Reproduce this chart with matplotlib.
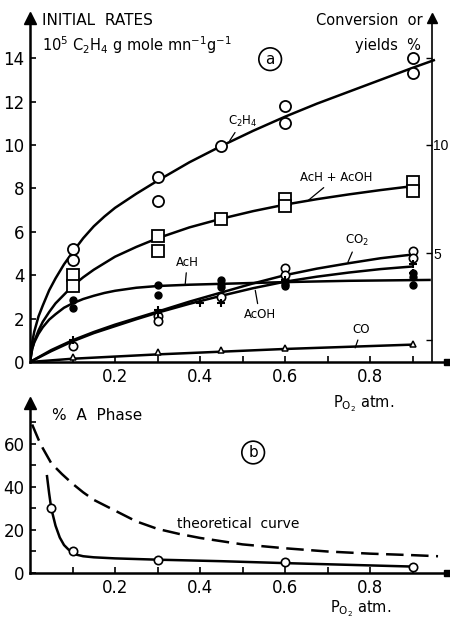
import numpy as np
import matplotlib
matplotlib.use('Agg')
import matplotlib.pyplot as plt

plt.rcParams['font.family'] = ['DejaVu Sans']

# ---- panel (a): initial rates vs P_O2 ----
c2h4_x = [0.1, 0.1, 0.3, 0.3, 0.45, 0.6, 0.6, 0.9, 0.9]
c2h4_y = [5.2, 4.7, 8.5, 7.4, 9.95, 11.8, 11.0, 14.0, 13.3]
sum_x = [0.1, 0.1, 0.3, 0.3, 0.45, 0.6, 0.6, 0.9, 0.9]
sum_y = [4.0, 3.5, 5.8, 5.1, 6.6, 7.5, 7.2, 8.3, 7.9]
ach_x = [0.1, 0.1, 0.3, 0.3, 0.45, 0.45, 0.45, 0.6, 0.6, 0.6, 0.9, 0.9, 0.9]
ach_y = [2.85, 2.5, 3.55, 3.1, 3.8, 3.6, 3.45, 3.8, 3.6, 3.5, 4.1, 3.9, 3.55]
co2_x = [0.1, 0.3, 0.3, 0.45, 0.6, 0.6, 0.9, 0.9]
co2_y = [0.75, 2.1, 1.9, 3.0, 4.35, 4.0, 5.1, 4.8]
acoh_x = [0.1, 0.3, 0.3, 0.4, 0.45, 0.6, 0.9, 0.9]
acoh_y = [1.0, 2.25, 2.4, 2.7, 2.7, 3.8, 4.5, 4.1]
co_x = [0.1, 0.3, 0.45, 0.6, 0.9]
co_y = [0.25, 0.45, 0.55, 0.65, 0.85]

# fitted curves
c2h4_cx = [0, 0.005, 0.01, 0.02, 0.03, 0.045, 0.06, 0.08, 0.1, 0.125, 0.15, 0.175, 0.2,
           0.25, 0.3, 0.375, 0.45, 0.525, 0.6, 0.675, 0.75, 0.825, 0.9, 0.95]
c2h4_cy = [0, 0.9, 1.4, 2.1, 2.6, 3.3, 3.85, 4.5, 5.05, 5.7, 6.25, 6.7, 7.1,
           7.75, 8.35, 9.2, 9.95, 10.65, 11.3, 11.9, 12.45, 13.0, 13.55, 13.9]
sum_cx = [0, 0.005, 0.01, 0.02, 0.03, 0.045, 0.06, 0.08, 0.1, 0.125, 0.15, 0.175, 0.2,
          0.25, 0.3, 0.375, 0.45, 0.525, 0.6, 0.675, 0.75, 0.825, 0.9]
sum_cy = [0, 0.6, 0.95, 1.45, 1.85, 2.3, 2.7, 3.1, 3.5, 3.9, 4.25, 4.55, 4.85,
          5.3, 5.7, 6.2, 6.6, 6.95, 7.25, 7.5, 7.72, 7.92, 8.1]
ach_cx = [0, 0.005, 0.01, 0.02, 0.03, 0.045, 0.06, 0.08, 0.1, 0.125, 0.15, 0.175, 0.2,
          0.25, 0.3, 0.375, 0.45, 0.6, 0.75, 0.94]
ach_cy = [0, 0.6, 0.9, 1.3, 1.6, 1.95, 2.2, 2.5, 2.7, 2.9, 3.05, 3.18, 3.28,
          3.42, 3.5, 3.56, 3.6, 3.68, 3.74, 3.78]
co2_cx = [0, 0.05, 0.1, 0.15, 0.2, 0.25, 0.3, 0.375, 0.45, 0.525, 0.6, 0.675, 0.75, 0.825, 0.9]
co2_cy = [0, 0.55, 1.0, 1.38, 1.72, 2.02, 2.32, 2.78, 3.2, 3.62, 4.0, 4.3, 4.55, 4.78, 4.95]
acoh_cx = [0, 0.05, 0.1, 0.15, 0.2, 0.25, 0.3, 0.375, 0.45, 0.525, 0.6, 0.675, 0.75, 0.825, 0.9]
acoh_cy = [0, 0.5, 0.95, 1.33, 1.65, 1.97, 2.27, 2.68, 3.05, 3.4, 3.7, 3.93, 4.12, 4.28, 4.4]
co_cx = [0, 0.1, 0.3, 0.6, 0.9]
co_cy = [0, 0.15, 0.35, 0.6, 0.8]

# ---- panel (b): % A phase ----
aph_x = [0.05, 0.1, 0.3, 0.6, 0.9]
aph_y = [30, 10, 6, 5, 3]
aph_cx = [0.04, 0.045, 0.05, 0.06, 0.07, 0.08, 0.09, 0.1, 0.11, 0.125, 0.15, 0.2,
          0.3, 0.45, 0.6, 0.75, 0.9]
aph_cy = [45, 37, 30, 22, 16.5, 13, 11, 9.5, 8.5, 7.8, 7.3, 6.8,
          6.2, 5.5, 4.6, 3.8, 3.0]
theo_x = [0.005, 0.02, 0.03, 0.05, 0.075, 0.1, 0.125, 0.15, 0.2, 0.25, 0.3, 0.35, 0.4,
          0.5, 0.6, 0.7, 0.8, 0.9, 0.96]
theo_y = [69, 62, 58, 51, 46, 41.5, 37.5, 34, 29, 24, 20.5, 18.2, 16.3,
          13.3, 11.5, 10, 9, 8.3, 7.8]

fig = plt.figure(figsize=(4.5, 6.29), dpi=100)
ax = fig.add_axes([0.0667, 0.4245, 0.9256, 0.547])
axb = fig.add_axes([0.0667, 0.089, 0.9256, 0.2703])

lw = 1.8
k = 'black'

# panel a
for cx, cy in [(c2h4_cx, c2h4_cy), (sum_cx, sum_cy), (ach_cx, ach_cy),
               (co2_cx, co2_cy), (acoh_cx, acoh_cy), (co_cx, co_cy)]:
    ax.plot(cx, cy, '-', color=k, lw=lw, zorder=2, solid_joinstyle='round')
ax.plot(c2h4_x, c2h4_y, 'o', ms=8, mfc='white', mec=k, mew=1.3, zorder=3)
ax.plot(sum_x, sum_y, 's', ms=8, mfc='white', mec=k, mew=1.3, zorder=3)
ax.plot(ach_x, ach_y, 'o', ms=5, mfc=k, mec=k, zorder=3)
ax.plot(co2_x, co2_y, 'o', ms=6, mfc='white', mec=k, mew=1.2, zorder=3)
ax.plot(acoh_x, acoh_y, '+', ms=6, mec=k, mew=1.5, zorder=4)
ax.plot(co_x, co_y, '^', ms=5, mfc='white', mec=k, mew=1.1, zorder=3)

ax.set_xlim(0, 0.98)
ax.set_ylim(0, 15.85)
ax.spines['top'].set_visible(False)
ax.spines['right'].set_visible(False)
ax.spines['left'].set_linewidth(1.8)
ax.spines['bottom'].set_linewidth(1.8)
ax.set_xticks(np.arange(0.1, 0.95, 0.1))
ax.set_xticklabels(['', '0.2', '', '0.4', '', '0.6', '', '0.8', ''])
ax.set_yticks([0, 2, 4, 6, 8, 10, 12, 14])
ax.tick_params(direction='in', length=4, width=1.2, labelsize=12, pad=4)
ax.plot(0, 1, '^', color=k, ms=8, transform=ax.transAxes, clip_on=False)
ax.plot(1, 0, 's', color=k, ms=5, transform=ax.transAxes, clip_on=False)

# right axis
ax2 = ax.twinx()
ax2.set_ylim(ax.get_ylim())
for s in ['top', 'left', 'bottom']:
    ax2.spines[s].set_visible(False)
ax2.spines['right'].set_position(('axes', 0.946 / 0.98))
ax2.spines['right'].set_linewidth(1.2)
ax2.set_yticks([1, 5, 10, 14])
ax2.set_yticklabels(['', '5', '10', ''])
ax2.tick_params(direction='in', length=4, width=1.0, pad=1)
for t in ax2.get_yticklabels():
    t.set_fontfamily('Liberation Sans')
    t.set_fontsize(10)
ax2.plot(0.946 / 0.98, 1, '^', color=k, ms=7, transform=ax2.transAxes, clip_on=False)

# curve labels
lab = dict(fontsize=8.5, ha='center', va='center')
arr = dict(arrowstyle='-', color=k, lw=0.9, shrinkA=1, shrinkB=0)
ax.annotate('C$_2$H$_4$', xy=(0.47, 10.2), xytext=(0.50, 11.1), arrowprops=arr, **lab)
ax.annotate('AcH + AcOH', xy=(0.655, 7.45), xytext=(0.72, 8.5), arrowprops=arr, **lab)
ax.annotate('AcH', xy=(0.365, 3.55), xytext=(0.37, 4.6), arrowprops=arr, **lab)
ax.annotate('CO$_2$', xy=(0.748, 4.6), xytext=(0.77, 5.6), arrowprops=arr, **lab)
ax.annotate('AcOH', xy=(0.53, 3.3), xytext=(0.54, 2.2), arrowprops=arr, **lab)
ax.annotate('CO', xy=(0.765, 0.65), xytext=(0.78, 1.5), arrowprops=arr, **lab)
ax.text(0.565, 13.95, 'a', fontsize=11, ha='center', va='center',
        bbox=dict(boxstyle='circle,pad=0.25', fc='white', ec=k, lw=1.2))

fig.text(0.093, 0.968, 'INITIAL  RATES', fontsize=11, va='center')
fig.text(0.093, 0.928, '10$^5$ C$_2$H$_4$ g mole mn$^{-1}$g$^{-1}$', fontsize=10.5, va='center')
fig.text(0.94, 0.968, 'Conversion  or', fontsize=10.5, va='center', ha='right')
fig.text(0.935, 0.928, 'yields  %', fontsize=10.5, va='center', ha='right')
fig.text(0.74, 0.358, 'P$_{\\mathrm{O_2}}$ atm.', fontsize=10.5, va='center')

# panel b
axb.plot(aph_cx, aph_cy, '-', color=k, lw=lw, zorder=2, solid_joinstyle='round')
axb.plot(aph_x, aph_y, 'o', ms=6, mfc='white', mec=k, mew=1.2, zorder=3)
axb.plot(theo_x, theo_y, '-', color=k, lw=lw, dashes=(7, 3), zorder=2)
axb.set_xlim(0, 0.98)
axb.set_ylim(0, 79)
axb.spines['top'].set_visible(False)
axb.spines['right'].set_visible(False)
axb.spines['left'].set_linewidth(1.8)
axb.spines['bottom'].set_linewidth(1.8)
axb.set_xticks(np.arange(0.1, 0.95, 0.1))
axb.set_xticklabels(['', '0.2', '', '0.4', '', '0.6', '', '0.8', ''])
axb.set_yticks([0, 10, 20, 30, 40, 50, 60, 70])
axb.set_yticklabels(['0', '', '20', '', '40', '', '60', ''])
axb.tick_params(direction='in', length=4, width=1.2, labelsize=12, pad=4)
axb.plot(0, 1, '^', color=k, ms=8, transform=axb.transAxes, clip_on=False)
axb.plot(1, 0, 's', color=k, ms=5, transform=axb.transAxes, clip_on=False)
axb.text(0.49, 23, 'theoretical  curve', fontsize=10, ha='center', va='center')
axb.text(0.525, 56, 'b', fontsize=11, ha='center', va='center',
         bbox=dict(boxstyle='circle,pad=0.25', fc='white', ec=k, lw=1.2))
fig.text(0.115, 0.34, '%  A  Phase', fontsize=11, va='center')
fig.text(0.733, 0.033, 'P$_{\\mathrm{O_2}}$ atm.', fontsize=10.5, va='center')

fig.savefig('out.png', dpi=100)
